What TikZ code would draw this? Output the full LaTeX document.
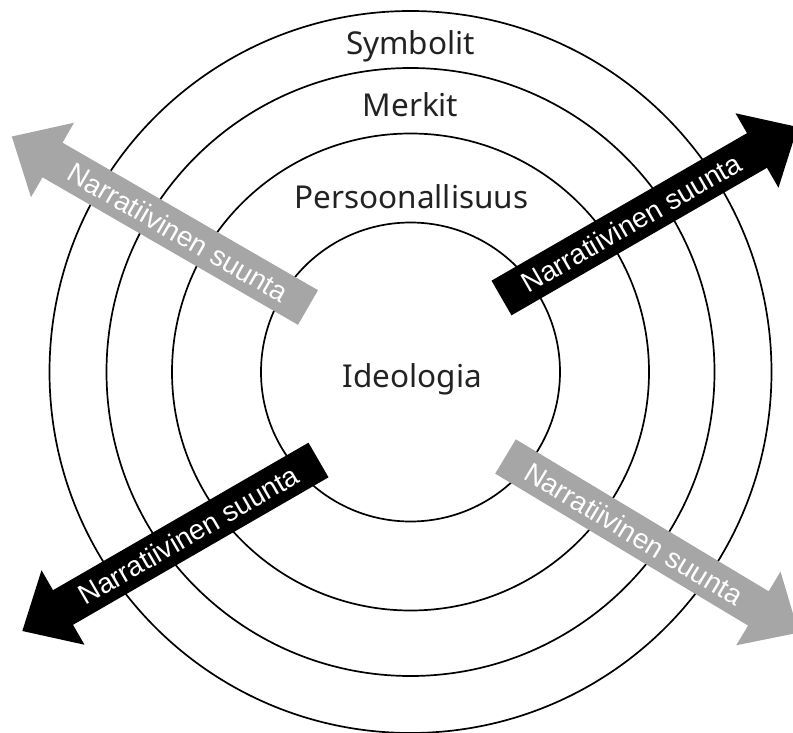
\documentclass[tikz,border=0pt]{standalone}
\usepackage{fontspec}
\setmainfont{Noto Sans}
\newfontfamily\arrowfont{Liberation Sans}
\definecolor{labelink}{RGB}{34,34,34}
\definecolor{arrowgray}{RGB}{166,166,166}
\begin{document}
\begin{tikzpicture}[x=1pt,y=-1pt,
  ring/.style={draw=black,line width=1.7pt},
  layerlabel/.style={text=labelink,font=\fontsize{31.5}{38}\selectfont,anchor=base,inner sep=0pt},
  arrowlabel/.style={text=white,font=\arrowfont\fontsize{28}{33}\selectfont,inner sep=0pt},
  % shaft half-width 20, shaft length 295, head half-width 43, head length 47
  bigarrow/.style={insert path={(0,-20) -- (295,-20) -- (295,-43) -- (342,0) -- (295,43) -- (295,20) -- (0,20) -- cycle}}]
\useasboundingbox (0,0) rectangle (793,733);

% concentric layers
\coordinate (c) at (410.5,372);
\draw[ring] (c) circle[radius=361];
\draw[ring] (c) circle[radius=304];
\draw[ring] (c) circle[radius=238.5];
\draw[ring] (c) circle[radius=149.5];

\node[layerlabel] (symbolit) at (410.5,55) {Symbolit};
\node[layerlabel] (merkit) at (410.5,117) {Merkit};
\node[layerlabel] (persoona) at (411.5,208) {Persoonallisuus};
\node[layerlabel] (ideologia) at (412.5,387) {Ideologia};

% narrative directions
\begin{scope}[shift={(308,307.5)},rotate=150]
  \fill[arrowgray,bigarrow];
  \node[arrowlabel,rotate=-30] (nw) at (150,0) {Narratiivinen suunta};
\end{scope}
\begin{scope}[shift={(501.5,298)},rotate=30]
  \fill[black,bigarrow];
  \node[arrowlabel,rotate=30] (ne) at (150,0) {Narratiivinen suunta};
\end{scope}
\begin{scope}[shift={(318.5,460)},rotate=210]
  \fill[black,bigarrow];
  \node[arrowlabel,rotate=30] (sw) at (150,0) {Narratiivinen suunta};
\end{scope}
\begin{scope}[shift={(505.5,456.5)},rotate=-31]
  \fill[arrowgray,bigarrow];
  \node[arrowlabel,rotate=-31] (se) at (150,0) {Narratiivinen suunta};
\end{scope}
\end{tikzpicture}
\end{document}
